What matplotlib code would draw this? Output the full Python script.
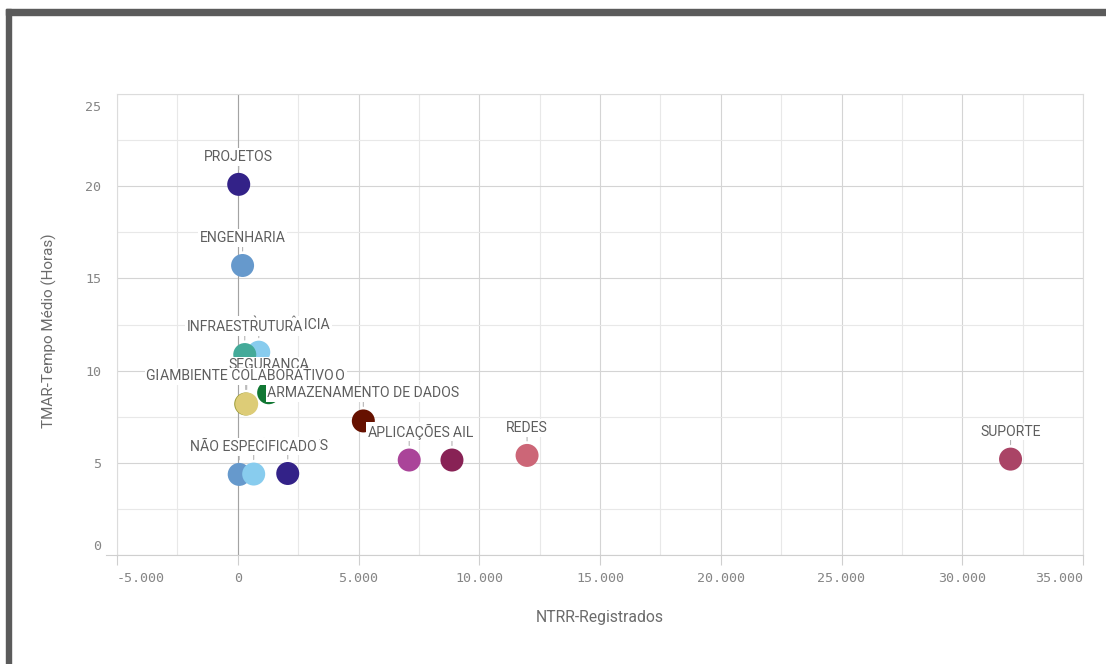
import matplotlib
matplotlib.use("Agg")
import matplotlib.pyplot as plt
from matplotlib.patches import Rectangle
from matplotlib.ticker import FixedLocator, MultipleLocator, FuncFormatter
from matplotlib.transforms import ScaledTranslation

# --- data -------------------------------------------------------------------
categorias = [
    "PROJETOS", "ENGENHARIA", "SUPORTE À GERÊNCIA", "INFRAESTRUTURA",
    "SEGURANCA", "GERENCIAMENTO DE TRÁFEGO", "AMBIENTE COLABORATIVO",
    "ARMAZENAMENTO DE DADOS", "REDES", "SUPORTE", "E-MAIL", "APLICAÇÕES",
    "SERVIDORES", "IMPRESSÃO", "NÃO ESPECIFICADO",
]
registrados = [40, 200, 870, 290, 1280, 330, 370, 5200, 11980, 32000,
               8870, 7100, 2070, 60, 660]
tempo_medio = [20.1, 15.7, 11.0, 10.87, 8.8, 8.19, 8.19, 7.27, 5.4, 5.2,
               5.15, 5.15, 4.42, 4.37, 4.39]
cores = ["#332288", "#6699cc", "#88ccee", "#44aa99", "#117733", "#999933",
         "#ddcc77", "#661100", "#cc6677", "#aa4466", "#882255", "#aa4499",
         "#332288", "#6699cc", "#88ccee"]

x_ticks = [-5000, 0, 5000, 10000, 15000, 20000, 25000, 30000, 35000]
y_ticks = [0, 5, 10, 15, 20, 25]

# --- figure -----------------------------------------------------------------
W, H = 1106, 664
fig = plt.figure(figsize=(W / 100, H / 100), dpi=100)
fig.patch.set_facecolor("white")

# dark frame at the top and left edges
frame = "#5b5b5b"
fig.patches.append(Rectangle((6 / W, 1 - 15 / H), 1 - 6 / W, 6 / H,
                             transform=fig.transFigure, color=frame, zorder=0))
fig.patches.append(Rectangle((6 / W, 0), 5 / W, 1 - 9 / H,
                             transform=fig.transFigure, color=frame, zorder=0))

ax = fig.add_axes([117 / W, 1 - 555 / H, (1083 - 117) / W, (555 - 94) / H])
ax.set_xlim(x_ticks[0], x_ticks[-1])
ax.set_ylim(y_ticks[0], y_ticks[-1])

ax.xaxis.set_major_locator(FixedLocator(x_ticks))
ax.xaxis.set_minor_locator(MultipleLocator(2500))
ax.yaxis.set_major_locator(FixedLocator(y_ticks))
ax.yaxis.set_minor_locator(MultipleLocator(2.5))
ax.xaxis.set_major_formatter(FuncFormatter(lambda v, p: f"{v:,.0f}".replace(",", ".")))
ax.yaxis.set_major_formatter(FuncFormatter(lambda v, p: f"{v:.0f}"))

ax.set_axisbelow(True)
ax.grid(which="major", color="#d4d4d4", lw=0.8)
ax.grid(which="minor", color="#e8e8e8", lw=0.8)
for side in ("left", "right", "top"):
    ax.spines[side].set_color("#dcdcdc")
    ax.spines[side].set_linewidth(0.8)
ax.spines["bottom"].set_color("#cfcfcf")
ax.spines["bottom"].set_linewidth(0.8)
ax.axvline(0, color="#a3a3a3", lw=0.8, zorder=1)
# axis line continues a little to the left of the plot area
ax.plot([-0.011, 0], [0, 0], transform=ax.transAxes, color="#cfcfcf",
        lw=0.8, clip_on=False)

tick_font = dict(family="DejaVu Sans Mono", size=9.6)
ax.tick_params(axis="x", which="major", length=7.2, width=0.8, color="#cfcfcf",
               pad=5, labelcolor="#858585", labelsize=tick_font["size"])
ax.tick_params(axis="y", which="major", length=0, pad=11.5,
               labelcolor="#858585", labelsize=tick_font["size"])
ax.tick_params(which="minor", length=0)
for lab in ax.get_xticklabels() + ax.get_yticklabels():
    lab.set_family(tick_font["family"])

xt = ax.xaxis.get_major_ticks()
xt[0].label1.set_horizontalalignment("left")
xt[-1].label1.set_horizontalalignment("right")
yt = ax.yaxis.get_major_ticks()
top_lab = yt[-1].label1
top_lab.set_verticalalignment("top")
top_lab.set_transform(top_lab.get_transform()
                      + ScaledTranslation(0, -7 / 100, fig.dpi_scale_trans))
bot_lab = yt[0].label1
bot_lab.set_verticalalignment("bottom")
bot_lab.set_transform(bot_lab.get_transform()
                      + ScaledTranslation(0, 2 / 100, fig.dpi_scale_trans))

label_font = "Roboto"
ax.set_xlabel("NTRR-Registrados", family=label_font, fontsize=11.3,
              color="#6b6b6b", labelpad=18)
ax.set_ylabel("TMAR-Tempo Médio (Horas)", family=label_font, fontsize=11,
              color="#6b6b6b")
ax.yaxis.set_label_coords(-0.062, 0.487)

# --- bubbles ----------------------------------------------------------------
diam_px = 23
ax.scatter(registrados, tempo_medio, s=(diam_px * 0.72) ** 2, c=cores,
           edgecolors="none", zorder=3)

# --- labels, each with a white backing; later ones sit on top ---------------
for k, (nome, xv, yv) in enumerate(zip(categorias, registrados, tempo_medio)):
    ax.annotate(
        nome, xy=(xv, yv),
        xytext=(0, 23.5), textcoords="offset pixels",
        ha="center", va="baseline", family=label_font, fontsize=10.1,
        color="#5e5e5e",
        bbox=dict(boxstyle="square,pad=0.12", fc="white", ec="none"),
        arrowprops=dict(arrowstyle="-", color="#b5b5b5", lw=0.8,
                        shrinkA=0, shrinkB=14.5 * 0.72),
        zorder=10 + k,
    )

fig.savefig("out.png", dpi=100, facecolor="white")
